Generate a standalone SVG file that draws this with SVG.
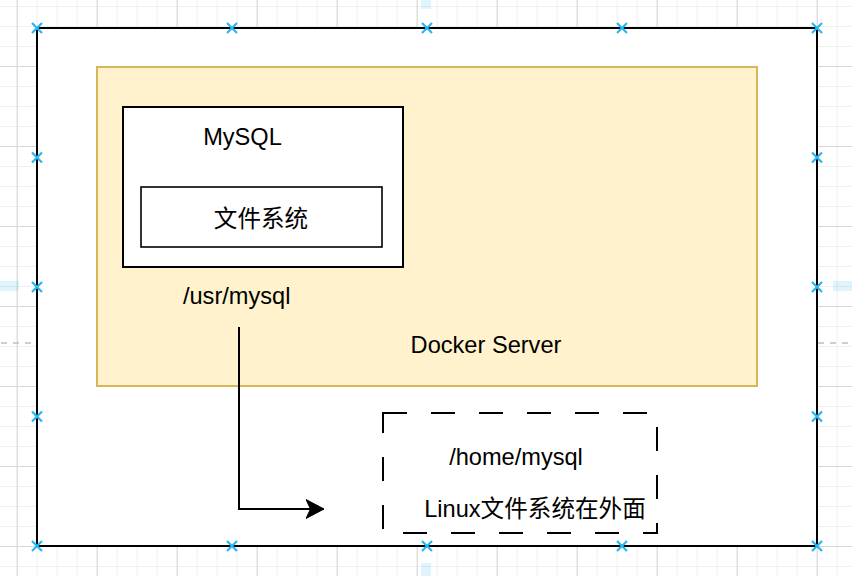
<svg xmlns="http://www.w3.org/2000/svg" width="852" height="576" viewBox="0 0 852 576">
  <defs>
    <pattern id="minor" width="20" height="20" patternUnits="userSpaceOnUse" x="16.7" y="6">
      <path d="M0.5 0 V20 M0 0.5 H20" fill="none" stroke="#efefef" stroke-width="1"/>
    </pattern>
    <pattern id="major" width="80" height="80" patternUnits="userSpaceOnUse" x="16.7" y="66">
      <path d="M0.5 0 V80 M0 0.5 H80" fill="none" stroke="#d6d6d6" stroke-width="1"/>
    </pattern>
    <marker id="arrow" markerWidth="20" markerHeight="20" viewBox="0 0 20 20" refX="18" refY="10" orient="auto" markerUnits="userSpaceOnUse">
      <path d="M18 10 L0 0.5 L4.5 10 L0 19.5 Z" fill="#000" stroke="#000" stroke-width="1"/>
    </marker>
    <g id="xm">
      <path d="M-5 -5 L5 5 M5 -5 L-5 5" stroke="#29b6f2" stroke-width="2.2"/>
    </g>
  </defs>
  <style>
    .lbl { font-family: "Liberation Sans", "Noto Sans CJK SC", Arial, sans-serif; font-size: 23.6px; fill: #000; text-anchor: middle; }
    .box { fill: #ffffff; stroke: #000; stroke-width: 2; }
  </style>

  <!-- canvas grid -->
  <rect x="0" y="0" width="852" height="576" fill="#ffffff"/>
  <rect x="0" y="0" width="852" height="576" fill="url(#minor)"/>
  <rect x="0" y="0" width="852" height="576" fill="url(#major)"/>

  <!-- guide highlights -->
  <g id="guides">
    <rect x="421" y="0" width="10" height="9" fill="#29b6f2" opacity="0.15"/>
    <rect x="421" y="563" width="10" height="13" fill="#29b6f2" opacity="0.15"/>
    <rect x="0" y="281" width="19" height="10" fill="#29b6f2" opacity="0.15"/>
    <rect x="833" y="281" width="19" height="10" fill="#29b6f2" opacity="0.15"/>
    <path d="M1 343 H32 M818 343 H852" stroke="#c0c0c0" stroke-width="1.5" stroke-dasharray="6 6"/>
  </g>

  <g id="outer">
    <rect class="box" x="37" y="28" width="780" height="518"/>
  </g>

  <g id="docker-server">
    <rect x="97" y="67" width="660" height="319" fill="#fff2cc" stroke="#d6b656" stroke-width="2"/>
    <text class="lbl" x="486" y="353">Docker Server</text>
  </g>

  <g id="mysql">
    <rect class="box" x="123" y="107" width="280" height="160"/>
    <text class="lbl" x="242.5" y="145">MySQL</text>
  </g>

  <g id="filesystem">
    <rect x="141" y="187" width="241" height="60" fill="#ffffff" stroke="#000" stroke-width="1.6"/>
    <text class="lbl" x="261" y="226.5">文件系统</text>
  </g>

  <g id="usr-mysql">
    <text class="lbl" x="236.7" y="304">/usr/mysql</text>
  </g>

  <g id="linux-fs">
    <rect x="383" y="413" width="274" height="120" fill="#ffffff" stroke="#000" stroke-width="2" stroke-dasharray="24 24"/>
    <text class="lbl" x="516" y="465">/home/mysql</text>
    <text class="lbl" x="535" y="517">Linux文件系统在外面</text>
  </g>

  <g id="connectors">
    <path d="M239 327 V509 H324" fill="none" stroke="#000" stroke-width="2" marker-end="url(#arrow)"/>
  </g>

  <!-- selection handles -->
  <g id="handles">
    <use href="#xm" x="37" y="28"/><use href="#xm" x="232" y="28"/><use href="#xm" x="427" y="28"/><use href="#xm" x="622" y="28"/><use href="#xm" x="817" y="28"/>
    <use href="#xm" x="37" y="546"/><use href="#xm" x="232" y="546"/><use href="#xm" x="427" y="546"/><use href="#xm" x="622" y="546"/><use href="#xm" x="817" y="546"/>
    <use href="#xm" x="37" y="157.5"/><use href="#xm" x="37" y="287"/><use href="#xm" x="37" y="416.5"/>
    <use href="#xm" x="817" y="157.5"/><use href="#xm" x="817" y="287"/><use href="#xm" x="817" y="416.5"/>
  </g>
</svg>
